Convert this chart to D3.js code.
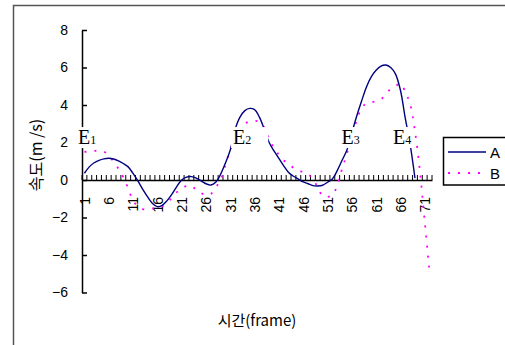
<!DOCTYPE html>
<html><head><meta charset="utf-8">
<script src="https://cdn.jsdelivr.net/npm/d3@7"></script>
<style>html,body{margin:0;padding:0;background:#fff;overflow:hidden}</style>
</head><body>
<svg id="c" width="505" height="345"></svg>
<script>
const frames = d3.range(1, 73);
const seriesA = [0.36,0.7,0.92,1.05,1.13,1.16,1.12,1.02,0.88,0.7,0.35,-0.05,-0.5,-0.9,-1.25,-1.42,-1.35,-1.1,-0.75,-0.35,0.0,0.15,0.18,0.1,-0.05,-0.2,-0.27,-0.12,0.3,0.9,1.6,2.7,3.35,3.7,3.82,3.75,3.35,2.7,2.0,1.55,1.15,0.75,0.4,0.2,0.05,-0.1,-0.2,-0.3,-0.32,-0.28,-0.12,0.05,0.5,1.05,1.6,2.5,3.4,4.2,4.95,5.5,5.85,6.07,6.13,6.0,5.65,4.8,3.3,1.9,0.1];
const seriesB = [1.5,1.52,1.55,1.57,1.52,1.3,0.98,0.6,0.15,-0.45,-1.1,-1.4,-1.55,-1.56,-1.52,-1.5,-1.4,-1.2,-0.95,-0.65,-0.45,-0.32,-0.3,-0.55,-0.7,-0.8,-0.75,-0.4,0.0,0.8,1.6,2.2,2.7,3.0,3.12,3.16,3.1,2.8,2.2,1.7,1.35,1.05,0.85,0.65,0.5,0.42,0.3,0.05,-0.4,-0.85,-0.9,-0.8,-0.3,0.6,1.4,2.5,3.15,3.85,4.08,4.15,4.2,4.3,4.6,4.85,5.0,5.15,4.7,4.05,2.6,0.5,-2.2,-4.95];
const yTicks = [-6,-4,-2,0,2,4,6,8];
const xTickLabels = [1,6,11,16,21,26,31,36,41,46,51,56,61,66,71];
const seriesNames = ["A","B"];
const seriesColors = ["#000080","#ff00ff"];
const eventNames = ["E","E","E","E"];
const eventSubs = ["1","2","3","4"];
const eventFrames = [-0.32, 31.56, 53.9, 64.5];
const eventValues = [1.97, 1.97, 1.97, 1.97];
const eventExtraRight = [0, 16, 0, 0];
const yTitle = "속도(m /s)";
const xTitle = "시간(frame)";

const svg = d3.select("#c");
svg.append("rect").attr("x",13.5).attr("y",5.5).attr("width",600).attr("height",500)
  .attr("fill","none").attr("stroke","#555").attr("stroke-width",1.5);

const x = d3.scaleLinear().domain([0.5, frames.length + 0.5]).range([82, 432]);
const y = d3.scaleLinear().domain([-6, 8]).range([292.5, 30]);

// Y axis
const yAx = svg.append("g").attr("transform", `translate(${x.range()[0]},0)`)
  .call(d3.axisLeft(y).tickValues(yTicks).tickSizeInner(-5).tickSizeOuter(0).tickPadding(14));
yAx.select(".domain").attr("stroke","#000").attr("stroke-width",1.5);
yAx.selectAll(".tick line").attr("stroke","#000").attr("stroke-width",1.5);
yAx.selectAll("text").attr("font-family","Liberation Sans, Arial, sans-serif").attr("font-size",14).attr("fill","#000");

// X axis
const xAx = svg.append("g").attr("transform", `translate(0,${y(0)})`)
  .call(d3.axisBottom(x).tickValues(xTickLabels).tickSize(0).tickPadding(0));
xAx.select(".domain").attr("stroke","#000").attr("stroke-width",1.5);
xAx.selectAll("text")
  .attr("font-family","Liberation Sans, Arial, sans-serif").attr("font-size",14).attr("fill","#000")
  .attr("text-anchor","end").attr("dy","0.35em")
  .attr("transform","translate(0,17) rotate(-90)").attr("y",0).attr("x",0);
// category boundary ticks
const bounds = d3.range(0, frames.length + 1).map(i => i + 0.5);
svg.append("g").selectAll("line").data(bounds).join("line")
  .attr("x1", d => x(d)).attr("x2", d => x(d))
  .attr("y1", y(0)).attr("y2", y(0) - 5)
  .attr("stroke","#000").attr("stroke-width",1);

// Lines
const line = d3.line().x((d,i) => x(frames[i])).y(d => y(d)).curve(d3.curveCatmullRom.alpha(0.5));
svg.append("path").datum(seriesB).attr("d", line).attr("fill","none")
  .attr("stroke", seriesColors[1]).attr("stroke-width", 1.8).attr("stroke-dasharray","2,8");
svg.append("path").datum(seriesA).attr("d", line).attr("fill","none")
  .attr("stroke", seriesColors[0]).attr("stroke-width", 1.4);

// Event labels with white background
eventNames.forEach((n, i) => {
  const g = svg.append("g");
  const t = g.append("text").attr("x", x(eventFrames[i])).attr("y", y(eventValues[i]) + 1)
    .attr("font-family","Liberation Serif, Times New Roman, serif").attr("fill","#000");
  t.append("tspan").attr("font-size",20).text(n);
  t.append("tspan").attr("font-size",12).text(eventSubs[i]);
  const bb = t.node().getBBox();
  g.insert("rect","text").attr("x", bb.x - 2).attr("y", bb.y + 1)
    .attr("width", bb.width + 3 + eventExtraRight[i]).attr("height", bb.height - 1)
    .attr("fill","#fff");
});

// Titles
svg.append("text").attr("transform","translate(42,155) rotate(-90)")
  .attr("text-anchor","middle").attr("font-family","Noto Sans CJK KR, sans-serif")
  .attr("font-size",16).attr("fill","#000").text(yTitle);
svg.append("text").attr("x",257).attr("y",326)
  .attr("text-anchor","middle").attr("font-family","Noto Sans CJK KR, sans-serif")
  .attr("font-size",15).attr("fill","#000").text(xTitle);

// Legend
const lg = svg.append("g");
lg.append("rect").attr("x",443.5).attr("y",137.5).attr("width",100).attr("height",47.5)
  .attr("fill","#fff").attr("stroke","#000").attr("stroke-width",1.5);
seriesNames.forEach((s, i) => {
  const yy = 152 + i * 21;
  lg.append("line").attr("x1",448).attr("x2",486).attr("y1",yy).attr("y2",yy)
    .attr("stroke", seriesColors[i]).attr("stroke-width", i ? 1.8 : 1.4)
    .attr("stroke-dasharray", i ? "2,8" : null);
  lg.append("text").attr("x",490).attr("y",yy + 5.5)
    .attr("font-family","Liberation Sans, Arial, sans-serif").attr("font-size",15)
    .attr("fill","#000").text(s);
});
</script>
</body></html>
